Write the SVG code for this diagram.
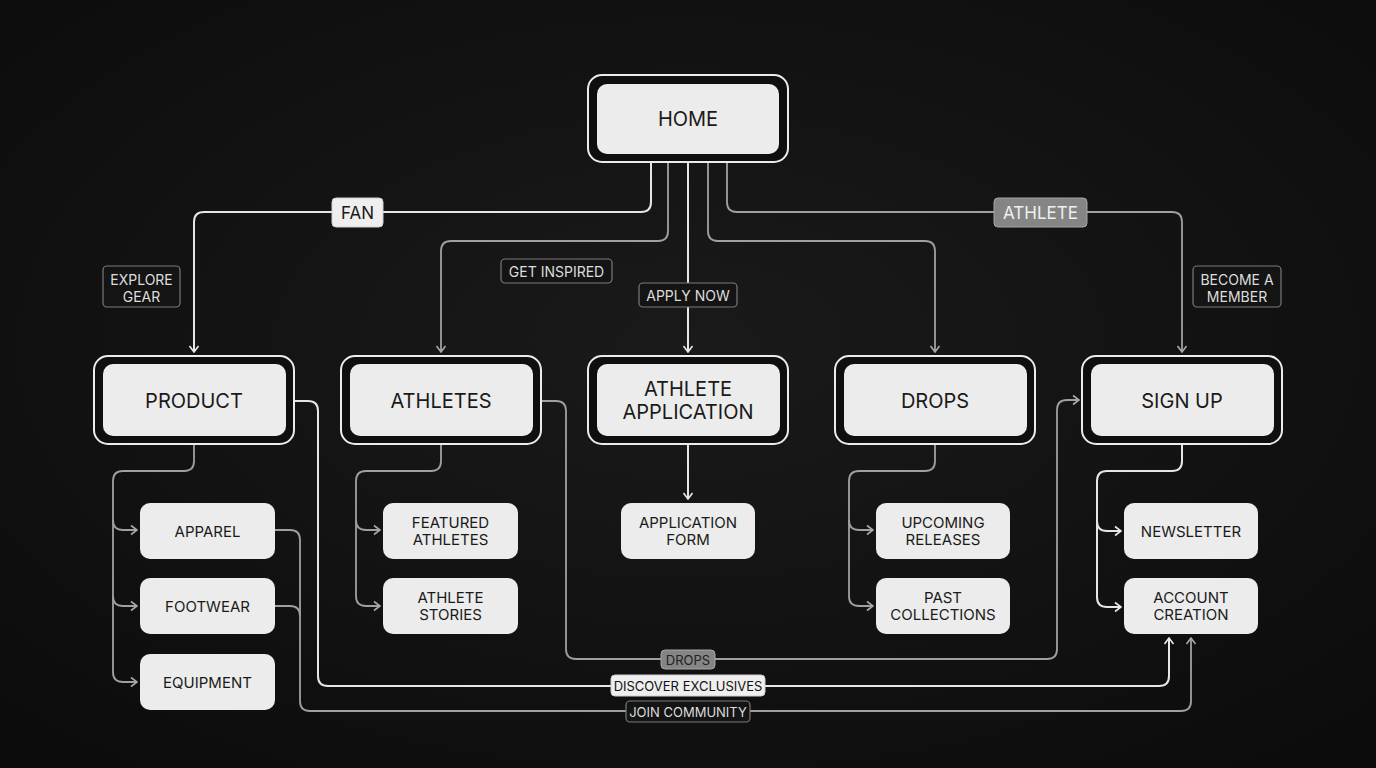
<svg xmlns="http://www.w3.org/2000/svg" width="1376" height="768" viewBox="0 0 1376 768">
<defs>
<radialGradient id="bg" cx="50%" cy="45%" r="75%">
<stop offset="0" stop-color="#1a1a1a"/>
<stop offset="1" stop-color="#0b0b0b"/>
</radialGradient>
<marker id="aw" viewBox="0 0 12 12" refX="11" refY="6" markerWidth="12" markerHeight="12" orient="auto" markerUnits="userSpaceOnUse">
<path d="M5,1.5 L11,6 L5,10.5" fill="none" stroke="#e8e8e8" stroke-width="1.6"/>
</marker>
<marker id="ag" viewBox="0 0 12 12" refX="11" refY="6" markerWidth="12" markerHeight="12" orient="auto" markerUnits="userSpaceOnUse">
<path d="M5,1.5 L11,6 L5,10.5" fill="none" stroke="#a8a8a8" stroke-width="1.6"/>
</marker>
<style>
text{font-family:Inter,"Liberation Sans",sans-serif;text-anchor:middle;dominant-baseline:central}
.outer{fill:#0f0f0f;stroke:#ececec;stroke-width:2}
.inner{fill:#ececec}
.main{font-size:20px;fill:#1a1a1a}
.child{fill:#ececec}
.ct{font-size:15px;fill:#1a1a1a}
.lw{fill:none;stroke:#e6e6e6;stroke-width:2}
.lg{fill:none;stroke:#a0a0a0;stroke-width:1.8}
.ldark{fill:#141414;stroke:#7a7a7a;stroke-width:1.2}
.tdark{font-size:14px;fill:#dddddd}
.lwhite{fill:#efefef;stroke:#cfcfcf;stroke-width:1}
.lgray{fill:#858585;stroke:#a5a5a5;stroke-width:1}
</style>
</defs>
<rect width="1376" height="768" fill="url(#bg)"/>

<g id="connectors">
<path class="lw" d="M651,162 V202 Q651,212 641,212 H204 Q194,212 194,222 V352" marker-end="url(#aw)"/>
<path class="lg" d="M668,162 V231 Q668,241 658,241 H451 Q441,241 441,251 V352" marker-end="url(#ag)"/>
<path class="lw" d="M688,162 V352" marker-end="url(#aw)"/>
<path class="lg" d="M708,162 V231 Q708,241 718,241 H925 Q935,241 935,251 V352" marker-end="url(#ag)"/>
<path class="lg" d="M727,162 V202 Q727,212 737,212 H1172 Q1182,212 1182,222 V352" marker-end="url(#ag)"/>

<path class="lg" d="M194,444 V461 Q194,471 184,471 H123 Q113,471 113,481 V672 Q113,682 123,682 H137" marker-end="url(#ag)"/>
<path class="lg" d="M113,520 Q113,530 123,530 H137" marker-end="url(#ag)"/>
<path class="lg" d="M113,596 Q113,606 123,606 H137" marker-end="url(#ag)"/>

<path class="lg" d="M441,444 V461 Q441,471 431,471 H366 Q356,471 356,481 V596 Q356,606 366,606 H380" marker-end="url(#ag)"/>
<path class="lg" d="M356,520 Q356,530 366,530 H380" marker-end="url(#ag)"/>

<path class="lw" d="M688,444 V499" marker-end="url(#aw)"/>

<path class="lg" d="M935,444 V461 Q935,471 925,471 H859 Q849,471 849,481 V596 Q849,606 859,606 H873" marker-end="url(#ag)"/>
<path class="lg" d="M849,520 Q849,530 859,530 H873" marker-end="url(#ag)"/>

<path class="lw" d="M1182,444 V461 Q1182,471 1172,471 H1107 Q1097,471 1097,481 V597 Q1097,607 1107,607 H1121" marker-end="url(#aw)"/>
<path class="lw" d="M1097,521 Q1097,531 1107,531 H1121" marker-end="url(#aw)"/>

<path class="lw" d="M294,401 H308 Q318,401 318,411 V676 Q318,686 328,686 H1159 Q1169,686 1169,676 V638" marker-end="url(#aw)"/>
<path class="lg" d="M541,401 H556 Q566,401 566,411 V649 Q566,659 576,659 H1047 Q1057,659 1057,649 V410 Q1057,400 1067,400 H1079" marker-end="url(#ag)"/>
<path class="lg" d="M275,530 H290 Q300,530 300,540 V701 Q300,711 310,711 H1181 Q1191,711 1191,701 V638" marker-end="url(#ag)"/>
<path class="lg" d="M275,606 H290 Q300,606 300,616"/>

<g id="edge-labels">
<rect class="lwhite" x="332" y="198" width="51" height="29" rx="4"/>
<text x="357.5" y="213" style="font-size:17px;fill:#1a1a1a">FAN</text>
<rect class="lgray" x="994" y="198" width="93" height="29" rx="4"/>
<text x="1040.5" y="213" style="font-size:17px;fill:#f0f0f0">ATHLETE</text>
<rect class="ldark" x="103" y="266" width="77" height="41" rx="4"/>
<text class="tdark" x="141.5" y="279">EXPLORE</text>
<text class="tdark" x="141.5" y="296">GEAR</text>
<rect class="ldark" x="501" y="259" width="111" height="24" rx="4"/>
<text class="tdark" x="556.5" y="271.5">GET INSPIRED</text>
<rect class="ldark" x="639" y="283" width="98" height="24" rx="4"/>
<text class="tdark" x="688" y="295.5">APPLY NOW</text>
<rect class="ldark" x="1193" y="266" width="88" height="41" rx="4"/>
<text class="tdark" x="1237" y="279">BECOME A</text>
<text class="tdark" x="1237" y="296">MEMBER</text>
<rect class="lgray" x="661" y="650" width="54" height="19" rx="4"/>
<text x="688" y="660" style="font-size:13px;fill:#222">DROPS</text>
<rect class="lwhite" x="611" y="675" width="154" height="21" rx="4"/>
<text x="688" y="686" style="font-size:13px;fill:#111">DISCOVER EXCLUSIVES</text>
<rect class="ldark" x="626" y="701" width="124" height="21" rx="4"/>
<text class="tdark" x="688" y="712" style="font-size:13px">JOIN COMMUNITY</text>
</g>
</g>

<g id="home">
<rect class="outer" x="588" y="75" width="200" height="87" rx="14"/>
<rect class="inner" x="597" y="84" width="182" height="70" rx="10"/>
<text class="main" x="688" y="119">HOME</text>
</g>

<g id="product">
<rect class="outer" x="94" y="356" width="200" height="88" rx="14"/>
<rect class="inner" x="103" y="364" width="183" height="72" rx="10"/>
<text class="main" x="194" y="401">PRODUCT</text>
</g>
<g id="athletes">
<rect class="outer" x="341" y="356" width="200" height="88" rx="14"/>
<rect class="inner" x="350" y="364" width="183" height="72" rx="10"/>
<text class="main" x="441" y="401">ATHLETES</text>
</g>
<g id="athlete-application">
<rect class="outer" x="588" y="356" width="200" height="88" rx="14"/>
<rect class="inner" x="597" y="364" width="183" height="72" rx="10"/>
<text class="main" x="688" y="389">ATHLETE</text>
<text class="main" x="688" y="412">APPLICATION</text>
</g>
<g id="drops">
<rect class="outer" x="835" y="356" width="200" height="88" rx="14"/>
<rect class="inner" x="844" y="364" width="183" height="72" rx="10"/>
<text class="main" x="935" y="401">DROPS</text>
</g>
<g id="sign-up">
<rect class="outer" x="1082" y="356" width="200" height="88" rx="14"/>
<rect class="inner" x="1091" y="364" width="183" height="72" rx="10"/>
<text class="main" x="1182" y="401">SIGN UP</text>
</g>

<g id="apparel">
<rect class="child" x="140" y="503" width="135" height="56" rx="10"/>
<text class="ct" x="207.5" y="531">APPAREL</text>
</g>
<g id="footwear">
<rect class="child" x="140" y="578" width="135" height="56" rx="10"/>
<text class="ct" x="207.5" y="606">FOOTWEAR</text>
</g>
<g id="equipment">
<rect class="child" x="140" y="654" width="135" height="56" rx="10"/>
<text class="ct" x="207.5" y="682">EQUIPMENT</text>
</g>
<g id="featured-athletes">
<rect class="child" x="383" y="503" width="135" height="56" rx="10"/>
<text class="ct" x="450.5" y="522">FEATURED</text>
<text class="ct" x="450.5" y="539">ATHLETES</text>
</g>
<g id="athlete-stories">
<rect class="child" x="383" y="578" width="135" height="56" rx="10"/>
<text class="ct" x="450.5" y="597">ATHLETE</text>
<text class="ct" x="450.5" y="614">STORIES</text>
</g>
<g id="application-form">
<rect class="child" x="621" y="503" width="134" height="56" rx="10"/>
<text class="ct" x="688" y="522">APPLICATION</text>
<text class="ct" x="688" y="539">FORM</text>
</g>
<g id="upcoming-releases">
<rect class="child" x="876" y="503" width="134" height="56" rx="10"/>
<text class="ct" x="943" y="522">UPCOMING</text>
<text class="ct" x="943" y="539">RELEASES</text>
</g>
<g id="past-collections">
<rect class="child" x="876" y="578" width="134" height="56" rx="10"/>
<text class="ct" x="943" y="597">PAST</text>
<text class="ct" x="943" y="614">COLLECTIONS</text>
</g>
<g id="newsletter">
<rect class="child" x="1124" y="503" width="134" height="56" rx="10"/>
<text class="ct" x="1191" y="531">NEWSLETTER</text>
</g>
<g id="account-creation">
<rect class="child" x="1124" y="578" width="134" height="56" rx="10"/>
<text class="ct" x="1191" y="597">ACCOUNT</text>
<text class="ct" x="1191" y="614">CREATION</text>
</g>
</svg>
